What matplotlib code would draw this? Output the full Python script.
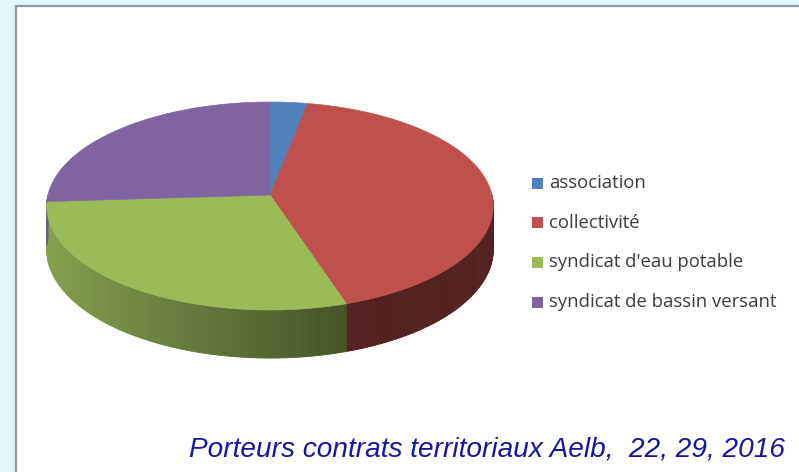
import matplotlib
matplotlib.use('Agg')
import matplotlib.pyplot as plt
import numpy as np
from matplotlib.patches import Rectangle, Polygon
from matplotlib.collections import PolyCollection

# data
categories = ['association', 'collectivité', "syndicat d'eau potable", 'syndicat de bassin versant']
values = [3, 42, 29, 26]
colors = ['#4f81bd', '#c0504d', '#9bbb59', '#8064a2']
footer = 'Porteurs contrats territoriaux Aelb,  22, 29, 2016'

# pie geometry (pixels)
cx, cy = 270, 195
A, C, q = 222, 102.8, 0.1058
D0 = 43


def proj(t):
    # t: angle clockwise from 12 o'clock, radians
    x = np.sin(t)
    z = np.cos(t)
    s = 1.0 / (1 + q * z)
    return cx + A * x * s, cy - C * z * s, s


def shade(col, f):
    rgb = np.array(matplotlib.colors.to_rgb(col))
    return tuple(np.clip(rgb * f, 0, 1))


fig = plt.figure(figsize=(7.99, 4.72), dpi=100)
fig.patch.set_facecolor('#e4f5fc')
ax = fig.add_axes([0, 0, 1, 1])
ax.set_xlim(0, 799)
ax.set_ylim(472, 0)
ax.axis('off')

# white panel with grey border
ax.add_patch(Rectangle((16, 6), 800, 480, facecolor='white', edgecolor='#8c9a9c', lw=1.6))

fracs = np.array(values) / np.sum(values)
bounds = np.concatenate([[0], np.cumsum(fracs)]) * 2 * np.pi

# side walls (front half only)
polys = []
cols = []
for i in range(len(values)):
    a0 = max(bounds[i], np.pi / 2)
    a1 = min(bounds[i + 1], 3 * np.pi / 2)
    if a1 <= a0:
        continue
    ts = np.linspace(a0, a1, int(np.degrees(a1 - a0)) + 2)
    for t0, t1 in zip(ts[:-1], ts[1:]):
        x0, y0, s0 = proj(t0)
        x1, y1, s1 = proj(t1)
        polys.append([(x0, y0), (x1, y1), (x1, y1 + D0 * s1), (x0, y0 + D0 * s0)])
        xn = np.sin((t0 + t1) / 2)
        f = np.clip(0.87 - 0.42 * (xn + 1) / 1.3, 0.42, 0.9)
        cols.append(shade(colors[i], f))
ax.add_collection(PolyCollection(polys, facecolors=cols, edgecolors=cols, lw=0.6))

# top faces
for i in range(len(values)):
    ts = np.linspace(bounds[i], bounds[i + 1], 200)
    x, y, _ = proj(ts)
    pts = [(cx, cy)] + list(zip(x, y))
    ax.add_patch(Polygon(pts, closed=True, facecolor=colors[i], edgecolor=colors[i], lw=0.5))

# legend
for i, lab in enumerate(categories):
    yy = 183 + i * 39.7
    ax.add_patch(Rectangle((532, yy - 5.5), 11, 11, facecolor=colors[i], edgecolor='none'))
    ax.text(549, yy, lab, fontsize=13.3, family='Open Sans', color='#3c3c3c', va='center', ha='left')

ax.text(785, 457, footer, fontsize=20.2, family='Liberation Sans', style='italic',
        color='#16169e', ha='right', va='baseline')

fig.savefig('out.png', dpi=100, facecolor=fig.get_facecolor())
